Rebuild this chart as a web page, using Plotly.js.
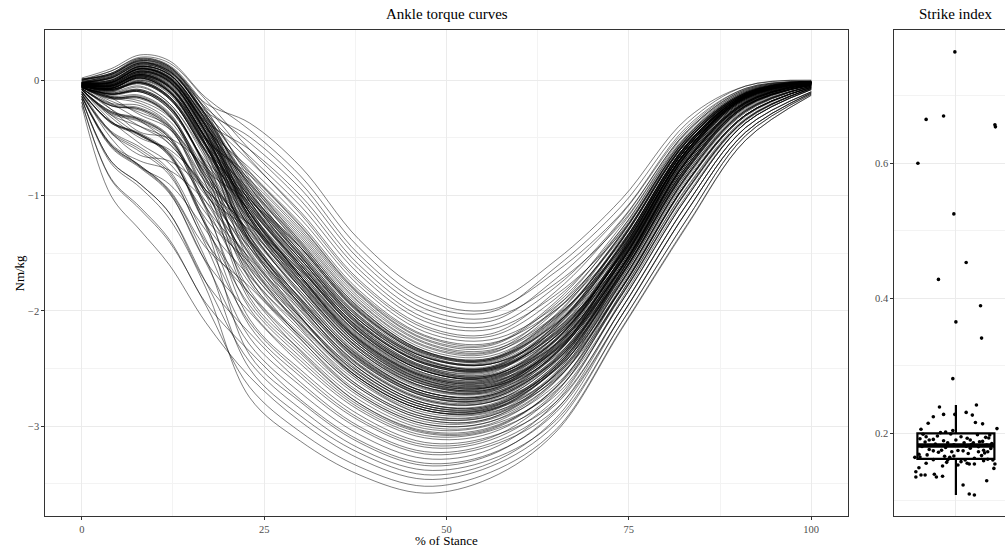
<!DOCTYPE html>
<html>
<head>
<meta charset="utf-8">
<script src="https://cdn.plot.ly/plotly-3.0.1.min.js"></script>
<style>
  html, body { margin: 0; padding: 0; overflow: hidden; background: #fff; }
  #chart { width: 1030px; height: 548px; }
</style>
</head>
<body>
<div id="chart"></div>
<script>
// % of stance at which each torque curve is sampled
const stancePct = [0, 4, 8, 12, 17, 23, 30, 38, 47, 56, 65, 74, 83, 91, 100];

// Ankle torque (Nm/kg), one row per stride
const torqueCurves = [
  [0.00,0.05,0.18,0.12,-0.20,-0.37,-0.75,-1.38,-1.83,-1.92,-1.56,-1.03,-0.33,-0.05,0.00],
  [0.02,0.10,0.22,0.17,-0.15,-0.43,-0.83,-1.45,-1.90,-1.99,-1.66,-1.15,-0.40,-0.07,-0.01],
  [-0.02,0.02,0.14,0.08,-0.27,-0.49,-0.89,-1.51,-1.94,-2.01,-1.62,-1.09,-0.37,-0.05,0.00],
  [-0.01,0.04,0.16,0.10,-0.24,-0.54,-0.94,-1.55,-1.98,-2.06,-1.76,-1.24,-0.45,-0.09,-0.01],
  [-0.03,-0.02,0.10,0.02,-0.36,-0.60,-1.00,-1.60,-2.02,-2.09,-1.72,-1.16,-0.42,-0.07,-0.01],
  [0.01,0.08,0.20,0.15,-0.17,-0.60,-1.04,-1.64,-2.06,-2.13,-1.79,-1.21,-0.44,-0.08,-0.01],
  [-0.02,0.02,0.13,0.07,-0.29,-0.66,-1.09,-1.68,-2.09,-2.16,-1.86,-1.32,-0.51,-0.11,-0.01],
  [-0.03,0.00,0.12,0.05,-0.33,-0.70,-1.14,-1.73,-2.13,-2.20,-1.83,-1.22,-0.44,-0.08,-0.01],
  [0.00,0.06,0.19,0.13,-0.22,-0.68,-1.16,-1.75,-2.15,-2.22,-1.89,-1.29,-0.48,-0.10,-0.01],
  [-0.04,-0.04,0.08,0.00,-0.42,-0.76,-1.20,-1.78,-2.18,-2.25,-1.96,-1.36,-0.52,-0.11,-0.01],
  [-0.02,0.03,0.15,0.08,-0.30,-0.79,-1.24,-1.82,-2.21,-2.28,-1.99,-1.41,-0.55,-0.12,-0.02],
  [-0.03,-0.01,0.11,0.03,-0.38,-0.80,-1.26,-1.84,-2.22,-2.29,-1.92,-1.26,-0.47,-0.09,-0.01],
  [0.01,0.05,0.17,0.11,-0.26,-0.82,-1.29,-1.86,-2.25,-2.32,-1.99,-1.34,-0.50,-0.11,-0.01],
  [-0.05,-0.06,0.04,-0.06,-0.50,-0.86,-1.31,-1.88,-2.27,-2.34,-2.04,-1.46,-0.58,-0.13,-0.02],
  [-0.02,-0.01,0.12,0.05,-0.34,-0.87,-1.33,-1.90,-2.28,-2.35,-1.97,-1.29,-0.48,-0.10,-0.01],
  [-0.04,-0.03,0.08,-0.01,-0.44,-0.89,-1.35,-1.92,-2.30,-2.36,-2.05,-1.44,-0.56,-0.13,-0.02],
  [-0.01,0.03,0.15,0.09,-0.31,-0.92,-1.39,-1.95,-2.33,-2.39,-2.06,-1.39,-0.53,-0.12,-0.02],
  [-0.03,-0.02,0.10,0.02,-0.39,-0.93,-1.41,-1.97,-2.35,-2.41,-2.11,-1.51,-0.60,-0.14,-0.02],
  [-0.05,-0.07,0.02,-0.10,-0.56,-0.95,-1.43,-1.99,-2.36,-2.42,-2.04,-1.34,-0.50,-0.11,-0.01],
  [-0.02,0.00,0.12,0.05,-0.35,-0.97,-1.45,-2.01,-2.37,-2.43,-2.11,-1.46,-0.58,-0.13,-0.02],
  [-0.04,-0.05,0.05,-0.05,-0.49,-0.98,-1.47,-2.02,-2.39,-2.45,-2.09,-1.38,-0.53,-0.12,-0.02],
  [-0.03,-0.02,0.09,0.01,-0.40,-1.00,-1.49,-2.04,-2.40,-2.46,-2.16,-1.56,-0.63,-0.15,-0.02],
  [-0.04,-0.04,0.07,-0.01,-0.45,-1.02,-1.51,-2.06,-2.42,-2.48,-2.13,-1.44,-0.56,-0.13,-0.02],
  [-0.05,-0.08,-0.02,-0.15,-0.62,-1.03,-1.53,-2.08,-2.43,-2.49,-2.19,-1.51,-0.60,-0.14,-0.02],
  [-0.02,0.02,0.14,0.08,-0.30,-1.05,-1.55,-2.10,-2.45,-2.50,-2.12,-1.39,-0.53,-0.12,-0.02],
  [-0.04,-0.05,0.05,-0.05,-0.50,-1.07,-1.57,-2.11,-2.46,-2.51,-2.22,-1.57,-0.63,-0.15,-0.02],
  [-0.05,-0.07,0.02,-0.10,-0.56,-1.08,-1.58,-2.13,-2.48,-2.53,-2.17,-1.43,-0.56,-0.13,-0.02],
  [-0.03,-0.02,0.10,0.02,-0.39,-1.10,-1.60,-2.15,-2.49,-2.55,-2.22,-1.51,-0.60,-0.14,-0.02],
  [-0.06,-0.12,-0.08,-0.22,-0.72,-1.12,-1.62,-2.16,-2.51,-2.56,-2.25,-1.54,-0.61,-0.15,-0.02],
  [-0.04,-0.03,0.08,0.00,-0.44,-1.14,-1.64,-2.18,-2.52,-2.57,-2.29,-1.62,-0.69,-0.19,-0.03],
  [-0.04,-0.06,0.04,-0.06,-0.50,-1.15,-1.66,-2.20,-2.54,-2.59,-2.24,-1.49,-0.58,-0.14,-0.02],
  [-0.05,-0.09,-0.01,-0.14,-0.61,-1.17,-1.68,-2.21,-2.55,-2.60,-2.29,-1.56,-0.63,-0.15,-0.02],
  [-0.03,-0.01,0.11,0.03,-0.38,-1.18,-1.70,-2.23,-2.57,-2.62,-2.34,-1.68,-0.76,-0.22,-0.04],
  [-0.05,-0.07,0.03,-0.09,-0.56,-1.20,-1.72,-2.25,-2.58,-2.63,-2.26,-1.49,-0.58,-0.14,-0.02],
  [-0.06,-0.15,-0.15,-0.30,-0.85,-1.24,-1.74,-2.26,-2.59,-2.64,-2.34,-1.62,-0.69,-0.19,-0.03],
  [-0.04,-0.05,0.06,-0.04,-0.50,-1.23,-1.75,-2.27,-2.60,-2.65,-2.31,-1.55,-0.62,-0.15,-0.02],
  [-0.05,-0.08,-0.03,-0.16,-0.63,-1.27,-1.78,-2.30,-2.62,-2.66,-2.39,-1.68,-0.76,-0.22,-0.04],
  [-0.03,-0.04,0.07,-0.01,-0.45,-1.29,-1.80,-2.32,-2.64,-2.68,-2.29,-1.48,-0.58,-0.14,-0.02],
  [-0.06,-0.11,-0.08,-0.22,-0.73,-1.33,-1.83,-2.35,-2.66,-2.69,-2.37,-1.62,-0.69,-0.19,-0.03],
  [-0.05,-0.07,0.02,-0.10,-0.57,-1.36,-1.86,-2.37,-2.68,-2.71,-2.43,-1.74,-0.82,-0.26,-0.05],
  [-0.06,-0.16,-0.16,-0.31,-0.86,-1.39,-1.89,-2.39,-2.70,-2.73,-2.36,-1.54,-0.61,-0.15,-0.02],
  [-0.04,-0.05,0.05,-0.05,-0.51,-1.42,-1.92,-2.41,-2.72,-2.74,-2.43,-1.68,-0.75,-0.22,-0.04],
  [-0.07,-0.22,-0.25,-0.40,-0.98,-1.45,-1.94,-2.44,-2.74,-2.76,-2.41,-1.60,-0.67,-0.19,-0.03],
  [-0.05,-0.09,-0.02,-0.15,-0.62,-1.48,-1.97,-2.46,-2.76,-2.78,-2.50,-1.80,-0.88,-0.30,-0.06],
  [-0.06,-0.12,-0.09,-0.23,-0.74,-1.51,-2.00,-2.48,-2.78,-2.79,-2.44,-1.66,-0.74,-0.22,-0.04],
  [-0.08,-0.28,-0.35,-0.50,-1.10,-1.54,-2.03,-2.50,-2.80,-2.81,-2.46,-1.62,-0.69,-0.19,-0.03],
  [-0.05,-0.07,0.03,-0.09,-0.55,-1.57,-2.06,-2.53,-2.82,-2.83,-2.51,-1.74,-0.82,-0.26,-0.05],
  [-0.06,-0.15,-0.14,-0.29,-0.84,-1.60,-2.08,-2.55,-2.84,-2.85,-2.55,-1.80,-0.88,-0.30,-0.06],
  [-0.07,-0.21,-0.24,-0.39,-0.96,-1.64,-2.11,-2.58,-2.86,-2.86,-2.49,-1.66,-0.74,-0.22,-0.04],
  [-0.06,-0.12,-0.10,-0.24,-0.75,-1.67,-2.14,-2.60,-2.88,-2.88,-2.59,-1.86,-0.95,-0.34,-0.07],
  [-0.10,-0.36,-0.47,-0.64,-1.25,-1.70,-2.17,-2.62,-2.90,-2.89,-2.53,-1.72,-0.80,-0.26,-0.05],
  [-0.06,-0.16,-0.15,-0.31,-0.86,-1.73,-2.20,-2.65,-2.92,-2.91,-2.58,-1.80,-0.88,-0.30,-0.06],
  [-0.08,-0.27,-0.34,-0.49,-1.09,-1.76,-2.22,-2.67,-2.94,-2.93,-2.54,-1.66,-0.74,-0.22,-0.04],
  [-0.07,-0.22,-0.25,-0.41,-0.99,-1.82,-2.28,-2.72,-2.98,-2.96,-2.64,-1.86,-0.95,-0.34,-0.07],
  [-0.12,-0.45,-0.60,-0.80,-1.40,-1.85,-2.31,-2.74,-3.00,-2.98,-2.61,-1.78,-0.86,-0.30,-0.06],
  [-0.06,-0.12,-0.10,-0.25,-0.78,-1.88,-2.34,-2.77,-3.02,-2.99,-2.69,-1.92,-1.01,-0.37,-0.08],
  [-0.10,-0.37,-0.48,-0.65,-1.26,-1.95,-2.40,-2.82,-3.06,-3.03,-2.66,-1.80,-0.88,-0.30,-0.06],
  [-0.08,-0.29,-0.36,-0.52,-1.12,-1.98,-2.43,-2.84,-3.08,-3.04,-2.73,-1.92,-1.01,-0.37,-0.08],
  [-0.14,-0.57,-0.75,-0.97,-1.57,-2.01,-2.46,-2.86,-3.10,-3.06,-2.70,-1.86,-0.95,-0.34,-0.07],
  [-0.08,-0.28,-0.34,-0.50,-1.10,-2.07,-2.51,-2.90,-3.14,-3.09,-2.79,-1.98,-1.07,-0.41,-0.10],
  [-0.12,-0.44,-0.58,-0.78,-1.38,-2.10,-2.54,-2.93,-3.16,-3.10,-2.71,-1.84,-0.93,-0.34,-0.07],
  [-0.10,-0.36,-0.46,-0.63,-1.24,-2.13,-2.57,-2.95,-3.18,-3.12,-2.76,-1.92,-1.01,-0.37,-0.08],
  [-0.16,-0.70,-0.90,-1.15,-1.75,-2.19,-2.62,-3.00,-3.22,-3.15,-2.81,-1.98,-1.07,-0.41,-0.10],
  [-0.12,-0.46,-0.62,-0.82,-1.43,-2.23,-2.65,-3.02,-3.24,-3.17,-2.85,-2.04,-1.13,-0.45,-0.11],
  [-0.14,-0.58,-0.76,-0.98,-1.58,-2.29,-2.71,-3.07,-3.28,-3.20,-2.79,-1.90,-0.99,-0.37,-0.08],
  [-0.19,-0.85,-1.10,-1.38,-1.93,-2.35,-2.77,-3.12,-3.32,-3.24,-2.88,-2.04,-1.13,-0.45,-0.11],
  [-0.10,-0.37,-0.47,-0.66,-1.27,-2.38,-2.79,-3.14,-3.34,-3.25,-2.86,-1.98,-1.07,-0.41,-0.10],
  [-0.16,-0.70,-0.90,-1.15,-1.75,-2.44,-2.85,-3.19,-3.38,-3.29,-2.95,-2.10,-1.20,-0.48,-0.12],
  [-0.14,-0.56,-0.74,-0.96,-1.55,-2.50,-2.91,-3.23,-3.42,-3.32,-2.93,-2.04,-1.13,-0.45,-0.11],
  [-0.22,-1.00,-1.30,-1.60,-2.10,-2.57,-2.96,-3.28,-3.46,-3.35,-2.98,-2.10,-1.20,-0.48,-0.12],
  [-0.19,-0.86,-1.12,-1.40,-1.95,-2.66,-3.05,-3.35,-3.52,-3.40,-3.03,-2.15,-1.25,-0.52,-0.13],
  [-0.16,-0.72,-0.93,-1.20,-1.80,-2.75,-3.13,-3.42,-3.58,-3.45,-3.05,-2.16,-1.26,-0.52,-0.13],
  [-0.08,-0.30,-0.40,-0.52,-0.95,-1.25,-1.65,-2.14,-2.48,-2.52,-2.18,-1.45,-0.57,-0.13,-0.02],
  [-0.03,-0.02,0.10,0.02,-0.45,-1.40,-2.05,-2.58,-2.86,-2.87,-2.50,-1.69,-0.77,-0.23,-0.04],
  [-0.02,0.03,0.15,0.09,-0.35,-1.20,-1.80,-2.35,-2.67,-2.70,-2.37,-1.57,-0.64,-0.16,-0.03],
  [-0.06,-0.15,-0.20,-0.35,-0.78,-1.05,-1.45,-1.98,-2.35,-2.41,-2.03,-1.33,-0.50,-0.11,-0.01],
  [-0.04,-0.05,0.05,-0.06,-0.55,-1.35,-1.95,-2.47,-2.77,-2.79,-2.51,-1.75,-0.83,-0.27,-0.05],
  [-0.07,-0.22,-0.26,-0.42,-0.88,-1.25,-1.70,-2.22,-2.56,-2.61,-2.33,-1.63,-0.70,-0.20,-0.03],
  [-0.02,0.00,0.12,0.05,-0.36,-1.02,-1.55,-2.11,-2.46,-2.51,-2.15,-1.43,-0.55,-0.13,-0.02],
  [-0.05,-0.08,-0.01,-0.14,-0.61,-1.38,-1.91,-2.41,-2.72,-2.74,-2.37,-1.53,-0.61,-0.15,-0.02],
  [-0.05,-0.09,-0.03,-0.16,-0.60,-1.00,-1.49,-2.04,-2.40,-2.46,-2.18,-1.52,-0.61,-0.14,-0.02],
  [-0.04,-0.03,0.08,-0.01,-0.46,-1.25,-1.77,-2.30,-2.62,-2.66,-2.36,-1.63,-0.70,-0.20,-0.03],
  [-0.05,-0.08,-0.02,-0.16,-0.66,-1.72,-2.22,-2.67,-2.94,-2.93,-2.57,-1.75,-0.83,-0.27,-0.05],
  [-0.05,-0.07,0.02,-0.10,-0.56,-1.10,-1.60,-2.15,-2.49,-2.54,-2.14,-1.38,-0.52,-0.12,-0.02],
  [-0.10,-0.36,-0.47,-0.64,-1.20,-1.58,-2.06,-2.53,-2.82,-2.83,-2.48,-1.69,-0.77,-0.23,-0.04],
  [-0.03,-0.02,0.10,0.02,-0.40,-0.90,-1.37,-1.93,-2.31,-2.37,-2.00,-1.33,-0.49,-0.11,-0.01],
  [-0.06,-0.14,-0.13,-0.28,-0.82,-1.32,-1.83,-2.35,-2.66,-2.69,-2.32,-1.53,-0.60,-0.15,-0.02],
  [-0.02,0.02,0.13,0.07,-0.32,-1.15,-1.66,-2.20,-2.54,-2.59,-2.29,-1.57,-0.64,-0.16,-0.02],
  [-0.06,-0.15,-0.15,-0.30,-0.90,-1.91,-2.37,-2.80,-3.04,-3.01,-2.67,-1.87,-0.96,-0.35,-0.07],
  [-0.06,-0.12,-0.09,-0.23,-0.70,-1.03,-1.53,-2.08,-2.43,-2.49,-2.14,-1.43,-0.55,-0.13,-0.02],
  [-0.04,-0.05,0.04,-0.06,-0.52,-1.45,-1.94,-2.44,-2.74,-2.76,-2.42,-1.63,-0.70,-0.20,-0.03],
  [-0.03,-0.02,0.10,0.02,-0.40,-1.20,-1.72,-2.25,-2.58,-2.63,-2.31,-1.57,-0.64,-0.16,-0.02],
  [-0.05,-0.07,0.02,-0.10,-0.52,-0.82,-1.27,-1.85,-2.24,-2.30,-1.94,-1.31,-0.50,-0.10,-0.01],
  [-0.06,-0.12,-0.09,-0.23,-0.76,-1.63,-2.12,-2.58,-2.86,-2.86,-2.56,-1.81,-0.89,-0.31,-0.06],
  [-0.05,-0.08,-0.02,-0.15,-0.62,-1.14,-1.64,-2.18,-2.52,-2.57,-2.21,-1.47,-0.58,-0.13,-0.02],
  [-0.05,-0.07,0.03,-0.09,-0.56,-1.39,-1.89,-2.39,-2.70,-2.73,-2.41,-1.69,-0.77,-0.23,-0.04],
  [-0.14,-0.56,-0.74,-0.95,-1.45,-1.79,-2.25,-2.70,-2.96,-2.94,-2.60,-1.81,-0.89,-0.31,-0.06],
  [-0.04,-0.04,0.07,-0.01,-0.46,-1.05,-1.55,-2.10,-2.45,-2.50,-2.20,-1.52,-0.61,-0.14,-0.02],
  [-0.08,-0.27,-0.33,-0.48,-1.00,-1.30,-1.80,-2.32,-2.64,-2.68,-2.33,-1.56,-0.63,-0.15,-0.02],
  [0.01,0.05,0.17,0.11,-0.27,-0.97,-1.45,-2.01,-2.37,-2.43,-2.07,-1.39,-0.53,-0.12,-0.02],
  [-0.05,-0.25,-0.45,-0.50,-0.75,-1.20,-1.68,-2.20,-2.52,-2.58,-2.25,-1.50,-0.60,-0.14,-0.02],
  [-0.03,-0.15,-0.30,-0.42,-0.80,-1.35,-1.90,-2.42,-2.72,-2.75,-2.40,-1.62,-0.68,-0.18,-0.03],
  [-0.02,0.05,0.16,0.06,-0.40,-1.05,-1.62,-2.18,-2.52,-2.58,-2.28,-1.58,-0.66,-0.17,-0.03],
  [0.00,0.08,0.19,0.12,-0.30,-0.92,-1.50,-2.05,-2.42,-2.50,-2.20,-1.52,-0.62,-0.15,-0.02],
  [-0.04,-0.10,0.00,-0.10,-0.50,-1.12,-1.70,-2.28,-2.62,-2.68,-2.35,-1.62,-0.70,-0.20,-0.03],
  [-0.06,-0.20,-0.35,-0.55,-0.95,-1.50,-2.05,-2.55,-2.84,-2.84,-2.47,-1.65,-0.72,-0.21,-0.04],
  [-0.10,-0.45,-0.65,-0.70,-0.95,-1.40,-1.95,-2.50,-2.80,-2.82,-2.48,-1.70,-0.78,-0.24,-0.04],
  [-0.02,0.00,0.12,0.04,-0.38,-1.00,-1.58,-2.12,-2.45,-2.49,-2.12,-1.42,-0.55,-0.13,-0.02],
  [-0.03,-0.05,0.06,-0.03,-0.48,-1.18,-1.75,-2.30,-2.63,-2.67,-2.30,-1.50,-0.58,-0.13,-0.02],
  [-0.05,-0.10,-0.05,-0.20,-0.65,-1.30,-1.85,-2.38,-2.70,-2.73,-2.38,-1.58,-0.65,-0.16,-0.03],
  [-0.08,-0.35,-0.55,-0.72,-1.15,-1.62,-2.12,-2.58,-2.86,-2.86,-2.50,-1.70,-0.78,-0.23,-0.04],
  [-0.04,-0.06,0.05,-0.04,-0.52,-1.20,-1.78,-2.33,-2.64,-2.66,-2.28,-1.48,-0.57,-0.13,-0.02],
  [0.01,0.06,0.18,0.12,-0.25,-0.85,-1.40,-1.97,-2.35,-2.42,-2.10,-1.44,-0.56,-0.12,-0.02],
  [-0.03,-0.03,0.08,0.00,-0.45,-1.15,-1.72,-2.25,-2.57,-2.61,-2.25,-1.46,-0.56,-0.13,-0.02],
  [-0.06,-0.18,-0.28,-0.40,-0.82,-1.42,-1.98,-2.50,-2.80,-2.82,-2.46,-1.66,-0.74,-0.21,-0.04],
  [-0.02,0.02,0.14,0.06,-0.34,-0.95,-1.52,-2.08,-2.44,-2.51,-2.19,-1.50,-0.60,-0.14,-0.02],
  [-0.05,-0.08,0.00,-0.12,-0.58,-1.22,-1.76,-2.28,-2.60,-2.64,-2.32,-1.60,-0.68,-0.18,-0.03],
  [-0.12,-0.55,-0.70,-0.78,-1.05,-1.55,-2.10,-2.60,-2.90,-2.90,-2.55,-1.75,-0.82,-0.27,-0.05],
  [-0.04,-0.05,0.06,-0.02,-0.44,-1.08,-1.62,-2.17,-2.50,-2.56,-2.24,-1.54,-0.63,-0.15,-0.02],
  [-0.03,-0.04,0.04,-0.08,-0.55,-1.28,-1.86,-2.40,-2.70,-2.72,-2.36,-1.56,-0.64,-0.16,-0.03],
  [-0.07,-0.25,-0.40,-0.55,-0.98,-1.58,-2.15,-2.65,-2.92,-2.91,-2.55,-1.76,-0.84,-0.28,-0.05],
  [-0.01,0.04,0.15,0.08,-0.32,-0.90,-1.45,-2.00,-2.38,-2.46,-2.16,-1.50,-0.61,-0.14,-0.02],
  [-0.05,-0.09,-0.02,-0.14,-0.58,-1.15,-1.70,-2.24,-2.57,-2.62,-2.30,-1.58,-0.66,-0.17,-0.03],
  [-0.09,-0.30,-0.48,-0.62,-1.05,-1.68,-2.24,-2.72,-2.98,-2.96,-2.60,-1.80,-0.88,-0.30,-0.06],
  [-0.04,-0.07,0.03,-0.07,-0.52,-1.10,-1.63,-2.17,-2.52,-2.57,-2.22,-1.48,-0.58,-0.13,-0.02],
  [-0.02,-0.02,0.10,0.03,-0.40,-1.02,-1.55,-2.08,-2.40,-2.44,-2.08,-1.37,-0.52,-0.12,-0.02],
  [-0.06,-0.14,-0.18,-0.32,-0.78,-1.38,-1.92,-2.43,-2.74,-2.77,-2.43,-1.66,-0.74,-0.21,-0.04],
  [-0.03,-0.01,0.10,0.01,-0.42,-1.12,-1.70,-2.26,-2.60,-2.65,-2.33,-1.62,-0.70,-0.19,-0.03],
  [-0.11,-0.50,-0.75,-0.90,-1.30,-1.85,-2.35,-2.80,-3.05,-3.02,-2.66,-1.84,-0.92,-0.33,-0.07],
  [-0.05,-0.08,0.01,-0.11,-0.57,-1.25,-1.80,-2.33,-2.66,-2.70,-2.37,-1.62,-0.70,-0.19,-0.03],
  [-0.03,-0.04,0.07,-0.02,-0.47,-1.08,-1.60,-2.12,-2.46,-2.52,-2.22,-1.55,-0.64,-0.16,-0.02],
  [-0.07,-0.20,-0.22,-0.38,-0.90,-1.52,-2.06,-2.56,-2.84,-2.85,-2.50,-1.72,-0.80,-0.25,-0.05],
  [0.00,0.06,0.17,0.10,-0.30,-0.88,-1.42,-2.00,-2.36,-2.42,-2.06,-1.38,-0.52,-0.11,-0.01],
  [-0.04,-0.06,0.04,-0.06,-0.50,-1.18,-1.74,-2.28,-2.61,-2.66,-2.34,-1.60,-0.68,-0.18,-0.03],
  [-0.05,-0.11,-0.06,-0.20,-0.68,-1.35,-1.90,-2.42,-2.73,-2.76,-2.42,-1.64,-0.72,-0.20,-0.03],
  [-0.02,0.01,0.12,0.05,-0.36,-0.98,-1.52,-2.06,-2.40,-2.46,-2.12,-1.42,-0.55,-0.12,-0.02],
  [-0.08,-0.32,-0.50,-0.60,-0.92,-1.45,-2.00,-2.52,-2.82,-2.84,-2.48,-1.68,-0.76,-0.22,-0.04],
  [-0.04,-0.05,0.05,-0.05,-0.50,-1.15,-1.70,-2.24,-2.56,-2.60,-2.25,-1.50,-0.60,-0.14,-0.02],
  [-0.03,-0.02,0.09,0.01,-0.42,-1.05,-1.60,-2.15,-2.50,-2.56,-2.26,-1.57,-0.66,-0.17,-0.03],
  [-0.06,-0.13,-0.10,-0.25,-0.74,-1.40,-1.96,-2.47,-2.77,-2.79,-2.44,-1.64,-0.72,-0.20,-0.03]
];

// Strike index per runner, with the horizontal jitter of each dot (category units)
const strikeIndex = [
  0.765,0.665,0.670,0.657,0.654,0.600,0.525,0.453,0.428,0.389,0.365,0.341,0.281,
  0.239,0.242,0.231,0.227,0.228,0.2246,0.228,0.215,0.216,0.214,0.206,0.207,0.204,0.202,0.201,
  0.1975,0.194,0.190,0.186,0.1876,0.1926,0.195,0.190,0.1985,0.191,0.186,
  0.199,0.198,0.196,0.195,0.193,0.192,0.190,0.189,0.188,0.187,0.186,0.185,0.184,0.1835,0.183,0.1825,0.182,
  0.181,0.1805,0.180,0.179,0.1775,0.176,0.1745,0.172,0.170,0.169,0.167,0.166,0.1615,0.163,
  0.178,0.175,0.174,0.175,0.1727,0.174,0.1727,0.171,0.1727,0.168,0.165,0.1644,0.1664,0.1644,
  0.1604,0.1604,0.1545,0.153,0.1556,0.1545,0.1545,0.1556,0.1604,0.1516,0.157,0.149,0.148,
  0.1431,0.1382,0.1353,0.1382,0.1393,0.1353,0.1363,0.1298,0.1234,0.110,0.1086,
  0.158,0.161,0.1595
];
const strikeJitter = [
  -0.01,-0.29,-0.12,0.38,0.385,-0.37,-0.02,0.10,-0.17,0.24,0.00,0.25,-0.03,
  -0.16,0.20,0.10,0.16,-0.12,-0.22,-0.01,-0.27,0.19,0.26,-0.34,0.40,-0.03,-0.10,-0.15,
  0.33,0.29,0.14,0.17,0.23,0.11,-0.29,-0.26,-0.32,-0.22,-0.08,
  -0.05,0.21,-0.18,0.05,0.32,-0.35,0.00,-0.12,0.26,-0.30,0.08,0.35,-0.20,0.15,-0.02,0.30,-0.25,
  0.10,-0.33,0.22,-0.10,0.34,-0.26,0.02,-0.17,0.12,-0.36,0.25,-0.11,0.31,0.18,
  0.14,0.27,-0.22,-0.14,-0.04,0.07,0.22,0.28,0.31,-0.28,-0.35,-0.40,-0.02,-0.06,
  0.09,0.36,0.38,0.02,0.11,0.13,0.18,-0.29,-0.08,-0.13,-0.09,-0.36,0.37,
  -0.39,-0.30,-0.39,-0.34,-0.21,-0.19,-0.13,0.30,0.07,0.13,0.18,
  0.05,-0.22,0.27
];

// Tukey box statistics (type-7 quantiles, 1.5 IQR whiskers)
function quantile(sorted, p) {
  const h = (sorted.length - 1) * p;
  const lo = Math.floor(h), hi = Math.ceil(h);
  return sorted[lo] + (h - lo) * (sorted[hi] - sorted[lo]);
}
const sortedStrike = strikeIndex.slice().sort((a, b) => a - b);
const q1 = quantile(sortedStrike, 0.25);
const med = quantile(sortedStrike, 0.5);
const q3 = quantile(sortedStrike, 0.75);
const iqr = q3 - q1;
const lowWhisker = sortedStrike.find(v => v >= q1 - 1.5 * iqr);
const highWhisker = sortedStrike.filter(v => v <= q3 + 1.5 * iqr).pop();
const boxHalf = 0.375;

const serif = 'Liberation Serif, Times New Roman, serif';
const W = 1030, H = 548;
const px = v => v / W;
const py = v => (H - v) / H;

const traces = torqueCurves.map(curve => ({
  type: 'scatter', mode: 'lines', x: stancePct, y: curve,
  xaxis: 'x', yaxis: 'y', hoverinfo: 'skip', showlegend: false,
  line: { color: 'rgba(0,0,0,0.5)', width: 1, shape: 'spline', smoothing: 1 }
}));

traces.push({
  type: 'box', x: [0], q1: [q1], median: [med], q3: [q3],
  lowerfence: [lowWhisker], upperfence: [highWhisker],
  width: 2 * boxHalf, whiskerwidth: 0, boxpoints: false,
  xaxis: 'x2', yaxis: 'y2', showlegend: false, hoverinfo: 'skip',
  line: { color: '#000', width: 2.2 }, fillcolor: 'rgba(0,0,0,0)'
});
traces.push({
  type: 'scatter', mode: 'lines', x: [-boxHalf, boxHalf], y: [med, med],
  xaxis: 'x2', yaxis: 'y2', showlegend: false, hoverinfo: 'skip',
  line: { color: '#000', width: 4.4 }
});
traces.push({
  type: 'scatter', mode: 'markers', x: strikeJitter, y: strikeIndex,
  xaxis: 'x2', yaxis: 'y2', showlegend: false, hoverinfo: 'skip',
  marker: { color: '#000', size: 3.6 }
});

const tickFont = { family: serif, size: 10.5, color: '#4d4d4d' };
const panelTop = 30.3, panelBottom = 516;
const yDomain = [py(panelBottom), py(panelTop)];

const axisBase = {
  showline: true, linecolor: '#333', linewidth: 1, mirror: true,
  ticks: 'outside', ticklen: 3, tickcolor: '#333', tickwidth: 1,
  tickfont: tickFont, zeroline: false,
  showgrid: true, gridcolor: '#ebebeb', gridwidth: 1
};

const layout = {
  width: W, height: H,
  margin: { l: 0, r: 0, t: 0, b: 0 },
  paper_bgcolor: '#fff', plot_bgcolor: '#fff',
  font: { family: serif },
  showlegend: false,
  xaxis: Object.assign({}, axisBase, {
    domain: [px(45.3), px(847.7)], range: [-5, 105],
    tickmode: 'array', tickvals: [0, 25, 50, 75, 100],
    minor: { tickvals: [12.5, 37.5, 62.5, 87.5], showgrid: true, gridcolor: '#f3f3f3', gridwidth: 1, ticks: '' },
    anchor: 'y'
  }),
  yaxis: Object.assign({}, axisBase, {
    domain: yDomain, range: [-3.778, 0.4335],
    tickmode: 'array', tickvals: [-3, -2, -1, 0],
    minor: { tickvals: [-3.5, -2.5, -1.5, -0.5], showgrid: true, gridcolor: '#f3f3f3', gridwidth: 1, ticks: '' },
    anchor: 'x'
  }),
  xaxis2: Object.assign({}, axisBase, {
    domain: [px(894.3), px(1017.5)], range: [-0.6, 0.6],
    tickmode: 'array', tickvals: [0], showticklabels: false, ticks: '',
    anchor: 'y2'
  }),
  yaxis2: Object.assign({}, axisBase, {
    domain: yDomain, range: [0.0775, 0.797],
    tickmode: 'array', tickvals: [0.2, 0.4, 0.6], ticktext: ['0.2', '0.4', '0.6'],
    minor: { tickvals: [0.1, 0.3, 0.5, 0.7], showgrid: true, gridcolor: '#f3f3f3', gridwidth: 1, ticks: '' },
    anchor: 'x2'
  }),
  annotations: [
    { text: 'Ankle torque curves', x: px(446.5), y: py(14.5), xref: 'paper', yref: 'paper',
      xanchor: 'center', yanchor: 'middle', showarrow: false, font: { family: serif, size: 15, color: '#000' } },
    { text: 'Strike index', x: px(955.7), y: py(14.5), xref: 'paper', yref: 'paper',
      xanchor: 'center', yanchor: 'middle', showarrow: false, font: { family: serif, size: 15, color: '#000' } },
    { text: '% of Stance', x: px(446.5), y: py(540), xref: 'paper', yref: 'paper',
      xanchor: 'center', yanchor: 'middle', showarrow: false, font: { family: serif, size: 13, color: '#000' } },
    { text: 'Nm/kg', x: px(18.5), y: py(273), xref: 'paper', yref: 'paper', textangle: -90,
      xanchor: 'center', yanchor: 'middle', showarrow: false, font: { family: serif, size: 13, color: '#000' } }
  ]
};

Plotly.newPlot('chart', traces, layout, { staticPlot: true, displayModeBar: false });
</script>
</body>
</html>
